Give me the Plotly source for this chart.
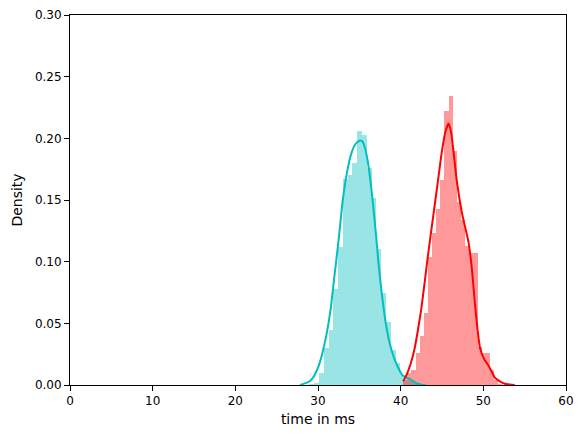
import plotly.graph_objects as go

# histogram bins (left edge, density)
cyan_bin_width = 0.58
cyan_bin_left = [28.95, 29.53, 30.11, 30.69, 31.27, 31.85, 32.43, 33.01, 33.59, 34.17,
                 34.75, 35.33, 35.91, 36.49, 37.07, 37.65, 38.23, 38.81, 39.39, 39.97,
                 40.55, 41.13, 41.71]
cyan_density = [0.001, 0.002, 0.010, 0.030, 0.045, 0.078, 0.112, 0.167, 0.170, 0.180,
                0.206, 0.203, 0.176, 0.152, 0.110, 0.075, 0.051, 0.028, 0.018, 0.008,
                0.006, 0.004, 0.001]

red_bin_width = 0.5
red_bin_left = [40.3, 40.8, 41.3, 41.8, 42.3, 42.8, 43.3, 43.8, 44.3, 44.8,
                45.3, 45.8, 46.3, 46.8, 47.3, 47.8, 48.3, 48.8, 49.3, 49.8,
                50.3, 50.8, 51.3, 51.8]
red_density = [0.004, 0.010, 0.012, 0.026, 0.040, 0.058, 0.104, 0.123, 0.143, 0.166,
               0.222, 0.234, 0.190, 0.148, 0.134, 0.113, 0.107, 0.107, 0.031, 0.026,
               0.026, 0.012, 0.004, 0.001]

# kde curves
cyan_kde_x = [27.8, 28.5, 29.0, 29.5, 30.0, 30.5, 31.0, 31.5, 32.0, 32.5, 33.0, 33.5,
              34.0, 34.5, 35.0, 35.3, 35.7, 36.0, 36.3, 36.6, 37.0, 37.3, 37.7, 38.2,
              38.7, 39.2, 39.7, 40.2, 40.7, 41.1, 41.5, 42.0, 42.5, 43.0]
cyan_kde_y = [0.0, 0.0015, 0.003, 0.007, 0.014, 0.025, 0.040, 0.060, 0.089, 0.118, 0.150, 0.172,
              0.187, 0.195, 0.198, 0.198, 0.192, 0.182, 0.168, 0.150, 0.123, 0.100, 0.075, 0.050,
              0.033, 0.022, 0.014, 0.008, 0.006, 0.005, 0.003, 0.0012, 0.0003, 0.0]

red_kde_x = [40.3, 40.7, 41.2, 41.7, 42.1, 42.5, 42.9, 43.3, 43.8, 44.2, 44.6, 45.0,
             45.4, 45.8, 46.1, 46.4, 46.8, 47.4, 47.8, 48.2, 48.6, 49.0, 49.3, 49.6,
             50.1, 50.6, 51.0, 51.4, 52.0, 52.6, 53.2, 53.8]
red_kde_y = [0.003, 0.008, 0.017, 0.030, 0.045, 0.062, 0.083, 0.105, 0.130, 0.150, 0.170, 0.190,
             0.205, 0.212, 0.205, 0.189, 0.165, 0.140, 0.128, 0.116, 0.095, 0.065, 0.045, 0.030,
             0.021, 0.016, 0.011, 0.006, 0.003, 0.001, 0.0004, 0.0]

x_ticks = [0, 10, 20, 30, 40, 50, 60]
y_ticks = [0.00, 0.05, 0.10, 0.15, 0.20, 0.25, 0.30]

CYAN = 'rgb(0, 191, 191)'
RED = 'rgb(255, 0, 0)'

fig = go.Figure()
fig.add_trace(go.Bar(x=[b + cyan_bin_width / 2 for b in cyan_bin_left], y=cyan_density,
                     width=cyan_bin_width, marker=dict(color='rgba(0, 191, 191, 0.4)', line=dict(width=0)),
                     showlegend=False))
fig.add_trace(go.Bar(x=[b + red_bin_width / 2 for b in red_bin_left], y=red_density,
                     width=red_bin_width, marker=dict(color='rgba(255, 0, 0, 0.4)', line=dict(width=0)),
                     showlegend=False))
fig.add_trace(go.Scatter(x=cyan_kde_x, y=cyan_kde_y, mode='lines',
                         line=dict(color=CYAN, width=2, shape='spline', smoothing=0.6),
                         showlegend=False))
fig.add_trace(go.Scatter(x=red_kde_x, y=red_kde_y, mode='lines',
                         line=dict(color=RED, width=2, shape='spline', smoothing=0.6),
                         showlegend=False))

axis = dict(showline=True, linecolor='black', linewidth=1, mirror=True,
            showgrid=False, zeroline=False, ticks='outside', ticklen=5,
            tickcolor='black', tickfont=dict(size=12, color='black'),
            automargin=False)
# page body has an 8px margin, so the figure is a bit smaller than the window
fig.update_layout(
    width=577, height=430,
    margin=dict(l=62, r=19, t=7, b=53),
    paper_bgcolor='white', plot_bgcolor='white',
    font=dict(family='DejaVu Sans', size=12, color='black'),
    barmode='overlay', bargap=0,
    xaxis=dict(axis, range=[0, 60], tickvals=x_ticks,
               title=dict(text='time in ms', standoff=6)),
    yaxis=dict(axis, range=[0, 0.30], tickvals=y_ticks, tickformat='.2f',
               title=dict(text='Density', standoff=8)),
)

fig.write_html("out.html")
